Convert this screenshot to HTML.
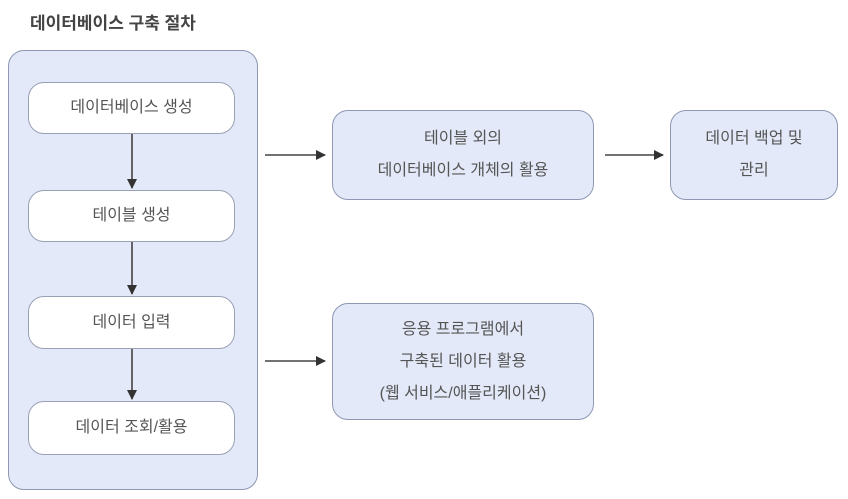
<!DOCTYPE html>
<html><head><meta charset="utf-8"><style>
body{margin:0;width:848px;height:499px;background:#fff;position:relative;overflow:hidden;font-family:"Liberation Sans","Noto Sans CJK KR",sans-serif;color:#555;}
.b{position:absolute;box-sizing:border-box;display:flex;align-items:center;justify-content:center;text-align:center;font-size:16px;line-height:32px;}
.o{background:#e3e9f8;border:1.5px solid #8e98b2;border-radius:16px;}
.w{background:#fff;border:1.5px solid #9aa1b5;border-radius:16px;}
.t{position:absolute;left:30px;top:9px;font-size:17px;font-weight:bold;color:#444;}
svg{position:absolute;left:0;top:0}
</style></head><body>
<div class="t">데이터베이스 구축 절차</div>
<div class="b o" style="left:8px;top:50px;width:250px;height:440px"></div>
<div class="b w" style="left:28px;top:82px;width:207px;height:52px">데이터베이스 생성</div>
<div class="b w" style="left:28px;top:190px;width:207px;height:52px">테이블 생성</div>
<div class="b w" style="left:28px;top:296px;width:207px;height:53px">데이터 입력</div>
<div class="b w" style="left:28px;top:401px;width:207px;height:54px">데이터 조회/활용</div>
<div class="b o" style="left:332px;top:110px;width:262px;height:90px">테이블 외의<br>데이터베이스 개체의 활용</div>
<div class="b o" style="left:670px;top:110px;width:168px;height:90px">데이터 백업 및<br>관리</div>
<div class="b o" style="left:332px;top:303px;width:262px;height:117px">응용 프로그램에서<br>구축된 데이터 활용<br>(웹 서비스/애플리케이션)</div>
<svg width="848" height="499">
<defs><marker id="a" markerWidth="10" markerHeight="10" refX="9" refY="5" orient="auto" markerUnits="userSpaceOnUse"><path d="M0,0 L10,5 L0,10 z" fill="#333"/></marker></defs>
<g stroke="#444" stroke-width="1.6" marker-end="url(#a)">
<line x1="132" y1="134" x2="132" y2="188"/>
<line x1="132" y1="242" x2="132" y2="294"/>
<line x1="132" y1="349" x2="132" y2="399"/>
<line x1="265" y1="155" x2="325" y2="155"/>
<line x1="605" y1="155" x2="663" y2="155"/>
<line x1="265" y1="361" x2="325" y2="361"/>
</g></svg>
</body></html>
